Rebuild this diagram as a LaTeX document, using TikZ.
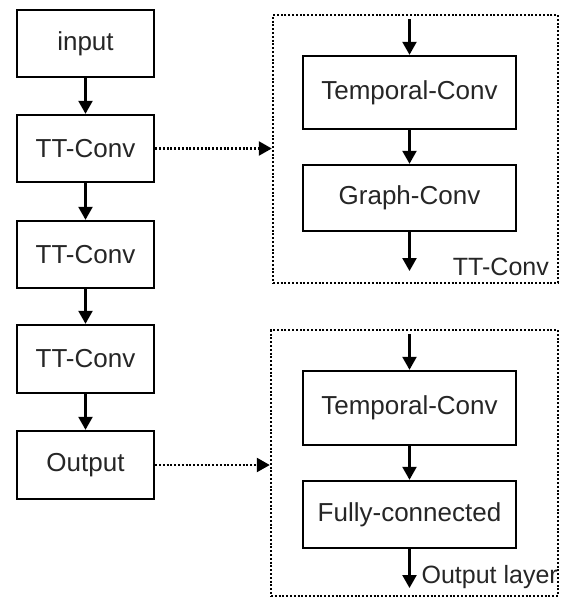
\documentclass[tikz,border=0pt]{standalone}
\usepackage{fontspec}
\setmainfont{Liberation Sans}
\usetikzlibrary{arrows.meta}
\begin{document}
\begin{tikzpicture}[x=1pt,y=-1pt,
  blk/.style={draw=black, line width=2.4pt, fill=white, minimum width=137pt,
    inner sep=0pt, font=\fontsize{26}{29}\selectfont, text=black!85},
  wblk/.style={blk, minimum width=213pt},
  frame/.style={draw=black, line width=2.4pt, dash pattern=on 2pt off 1.8pt, inner sep=0pt},
  flow/.style={line width=2.4pt, -{Triangle[length=13pt,width=14pt]}},
  link/.style={line width=2.4pt, dash pattern=on 2pt off 1.8pt, -{Triangle[length=13pt,width=14pt]}},
  tag/.style={font=\fontsize{25}{28}\selectfont, text=black!85, inner sep=0pt}]
\useasboundingbox (0,0) rectangle (563,598);

% main column
\node[blk, minimum height=67pt] (in)   at (85.5,43.5) {input};
\node[blk, minimum height=67pt] (tt1)  at (85.5,148.5) {TT-Conv};
\node[blk, minimum height=67pt] (tt2)  at (85.5,254.5) {TT-Conv};
\node[blk, minimum height=68pt] (tt3)  at (85.5,359) {TT-Conv};
\node[blk, minimum height=68pt] (out)  at (85.5,465) {Output};
\draw[flow] (in) -- (tt1);
\draw[flow] (tt1) -- (tt2);
\draw[flow] (tt2) -- (tt3);
\draw[flow] (tt3) -- (out);

% TT-Conv detail
\node[frame, minimum width=285pt, minimum height=268pt] (f1) at (415.5,149) {};
\node[wblk, minimum height=73pt] (tc1) at (409.5,92.5) {Temporal-Conv};
\node[wblk, minimum height=66pt] (gc)  at (409.5,198) {Graph-Conv};
\coordinate (f1in)  at (409.5,19);
\coordinate (f1out) at (409.5,271);
\draw[flow] (f1in) -- (tc1);
\draw[flow] (tc1) -- (gc);
\draw[flow] (gc) -- (f1out);
\node[tag, anchor=base east] (f1lbl) at (549,275) {TT-Conv};

% output layer detail
\node[frame, minimum width=287pt, minimum height=266pt] (f2) at (414.5,463) {};
\node[wblk, minimum height=74pt] (tc2) at (409.5,408) {Temporal-Conv};
\node[wblk, minimum height=67pt] (fc)  at (409.5,514.5) {Fully-connected};
\coordinate (f2in)  at (409.5,334);
\coordinate (f2out) at (409.5,588);
\draw[flow] (f2in) -- (tc2);
\draw[flow] (tc2) -- (fc);
\draw[flow] (fc) -- (f2out);
\node[tag, anchor=base east] (f2lbl) at (558,583) {Output layer};

% links from the column to the details
\draw[link] (tt1.east) -- (tt1.east -| f1.west);
\draw[link] (out.east) -- (out.east -| f2.west);
\end{tikzpicture}
\end{document}
